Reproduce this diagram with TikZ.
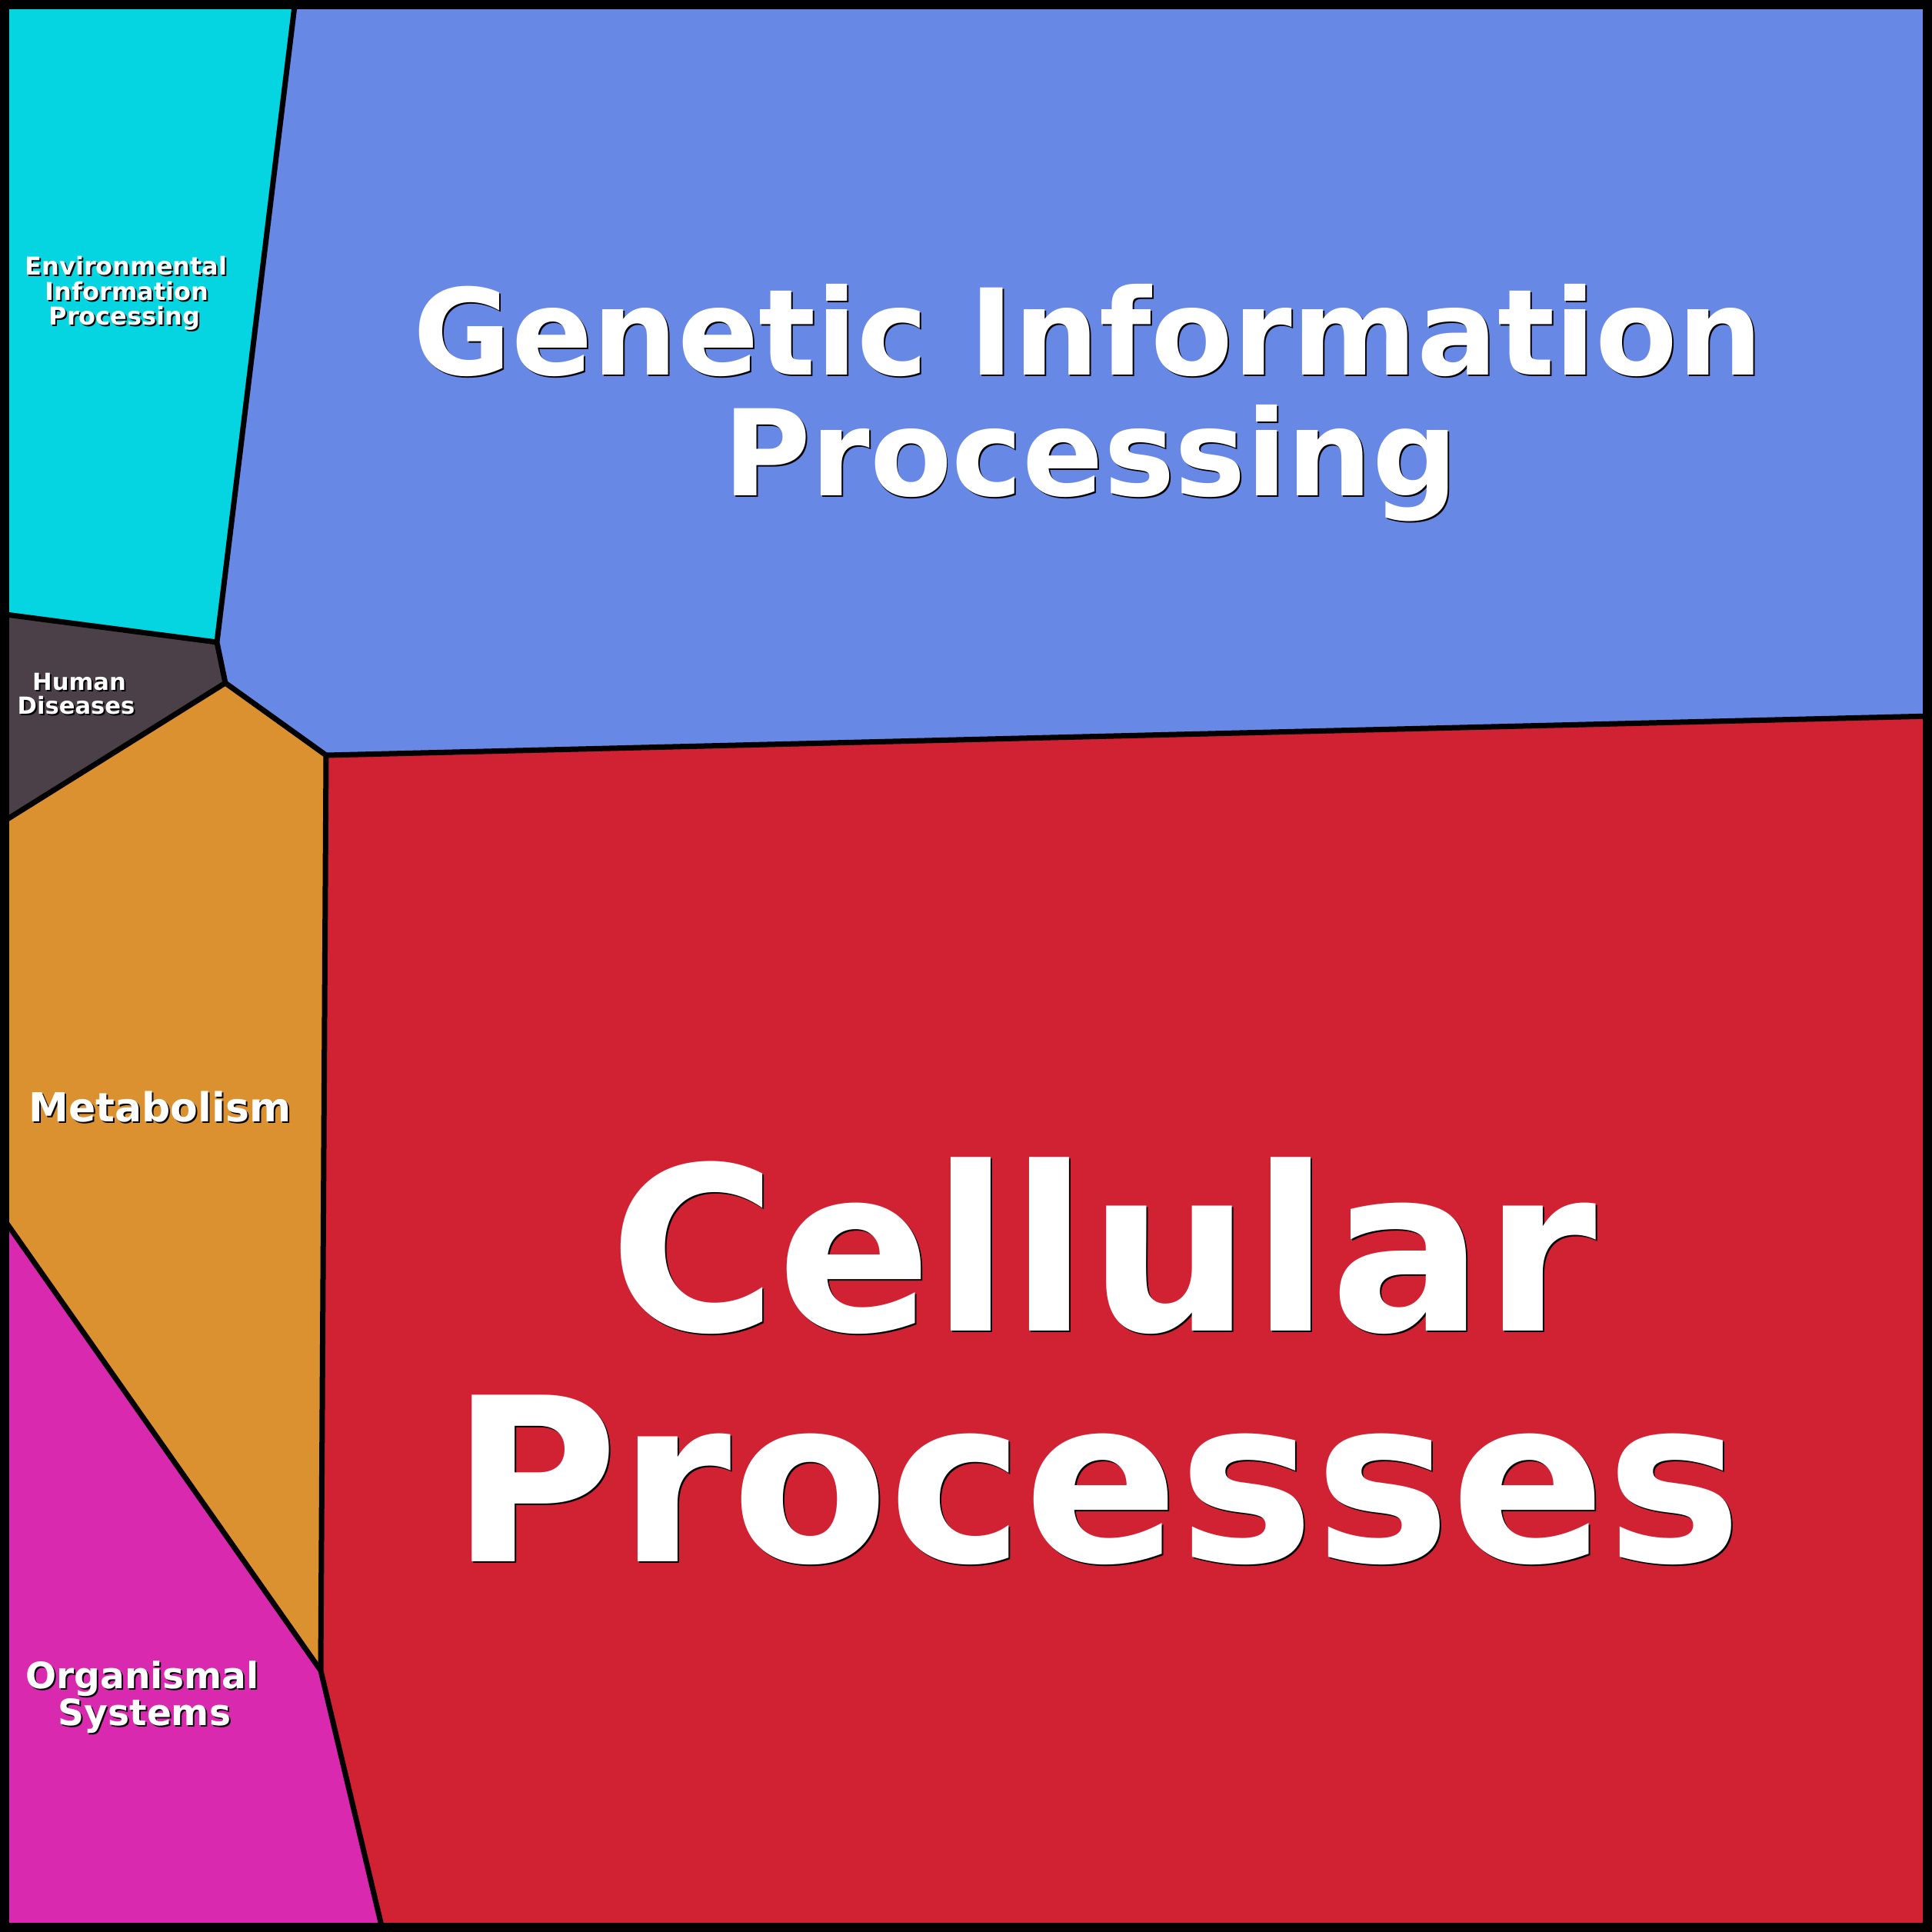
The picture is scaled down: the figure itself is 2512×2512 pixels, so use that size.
\documentclass[tikz,border=0pt]{standalone}
\usepackage{fontspec}
\newfontfamily\labelfont{DejaVu Sans}

\definecolor{envcyan}{RGB}{5,213,224}
\definecolor{genblue}{RGB}{103,137,229}
\definecolor{humgrey}{RGB}{75,64,71}
\definecolor{metorange}{RGB}{219,145,47}
\definecolor{cellred}{RGB}{208,34,50}
\definecolor{orgmagenta}{RGB}{217,41,175}

\tikzset{
    cellline/.style={line width=0.07cm, line join=round},
    celltext/.style={anchor=base, inner sep=0pt, text=white},
}

% label line with a thin dark shadow: name, x, y, size (pt), text
\newcommand{\celllabel}[5]{%
    \node[celltext, text=black, font=\labelfont\bfseries\fontsize{#4}{#4}\selectfont]
        at ({#2+2},{#3+2}) {#5};
    \node[celltext, font=\labelfont\bfseries\fontsize{#4}{#4}\selectfont]
        (#1) at (#2,#3) {#5};
}

\begin{document}
\begin{tikzpicture}[x=0.01cm, y=-0.01cm]

    \useasboundingbox (0,0) rectangle (2512,2512);

    % --- Corner points of the cells ---
    \coordinate (tl) at (0,0);
    \coordinate (tr) at (2512,0);
    \coordinate (br) at (2512,2512);
    \coordinate (bl) at (0,2512);
    \coordinate (envtop) at (384,0);
    \coordinate (envleft) at (0,798);
    \coordinate (envjoin) at (282,835);
    \coordinate (humjoin) at (293,888);
    \coordinate (humleft) at (0,1071);
    \coordinate (genjoin) at (424,982);
    \coordinate (genright) at (2512,931);
    \coordinate (orgjoin) at (417,2172);
    \coordinate (orgleft) at (0,1578);
    \coordinate (orgbottom) at (498,2512);

    % --- Cells ---
    \fill[envcyan] (tl) -- (envtop) -- (envjoin) -- (envleft) -- cycle;
    \fill[genblue] (envtop) -- (tr) -- (genright) -- (genjoin) -- (humjoin) -- (envjoin) -- cycle;
    \fill[humgrey] (envleft) -- (envjoin) -- (humjoin) -- (humleft) -- cycle;
    \fill[metorange] (humleft) -- (humjoin) -- (genjoin) -- (orgjoin) -- (orgleft) -- cycle;
    \fill[orgmagenta] (orgleft) -- (orgjoin) -- (orgbottom) -- (bl) -- cycle;
    \fill[cellred] (genjoin) -- (genright) -- (br) -- (orgbottom) -- (orgjoin) -- cycle;

    % --- Cell borders ---
    \draw[cellline] (envtop) -- (envjoin) -- (humjoin) -- (genjoin) -- (orgjoin) -- (orgbottom);
    \draw[cellline] (envleft) -- (envjoin);
    \draw[cellline] (humleft) -- (humjoin);
    \draw[cellline] (genjoin) -- (genright);
    \draw[cellline] (orgleft) -- (orgjoin);

    % --- Outer frame ---
    \draw[line width=0.12cm] (6,6) rectangle (2506,2506);

    % --- Labels ---
    \celllabel{gen1}{1415}{487}{44.2pt}{Genetic Information}
    \celllabel{gen2}{1418}{644}{44.2pt}{Processing}
    \celllabel{cell1}{1434}{1730}{84.5pt}{Cellular}
    \celllabel{cell2}{1426}{2030}{84.5pt}{Processes}
    \celllabel{env1}{164}{357}{9.1pt}{Environmental}
    \celllabel{env2}{165}{390}{9.1pt}{Information}
    \celllabel{env3}{162}{422}{9.1pt}{Processing}
    \celllabel{hum1}{103}{897}{8.7pt}{Human}
    \celllabel{hum2}{99}{928}{8.7pt}{Diseases}
    \celllabel{met}{208}{1458}{14.8pt}{Metabolism}
    \celllabel{org1}{185}{2195}{13.4pt}{Organismal}
    \celllabel{org2}{188}{2243}{13.4pt}{Systems}

\end{tikzpicture}
\end{document}
